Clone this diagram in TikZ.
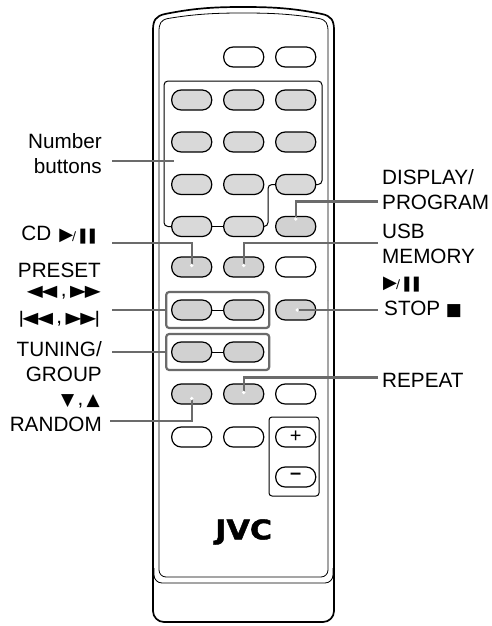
\documentclass[tikz,border=0pt]{standalone}
\usepackage{fontspec}
\setmainfont{Liberation Sans}
\newfontfamily\symfont{DejaVu Sans}
\newfontfamily\logofont[FakeBold=1.6]{DejaVu Sans Bold}
\usepackage{tikz}
\usetikzlibrary{arrows.meta,positioning,fit}

\definecolor{btngray}{gray}{0.82}
\definecolor{numgray}{gray}{0.85}
\definecolor{leadgray}{gray}{0.42}

\newcommand{\playpause}{{\symfont\fontsize{18}{18}\selectfont ▶\kern-1pt{\fontsize{12}{12}\selectfont/}\kern.5pt\fontsize{15}{15}\selectfont ❚\kern-3pt❚}}
\newcommand{\symwide}[1]{\scalebox{1.3}[1]{\symfont\fontsize{16}{16}\selectfont #1}}
\newcommand{\symone}[1]{{\symfont\fontsize{17}{17}\selectfont #1}}

\begin{document}
\begin{tikzpicture}[
    x=1pt, y=-1pt,
    node distance=22pt and 12pt,
    btn/.style={draw, line width=1.2pt, rounded corners=9.5pt, minimum width=40pt, minimum height=20pt, inner sep=0pt, outer sep=0pt},
    graybtn/.style={btn, fill=btngray},
    numbtn/.style={btn, fill=numgray},
    grp/.style={draw=leadgray, line width=2.2pt, rounded corners=3pt, inner xsep=5.5pt, inner ysep=8pt},
    leader/.style={draw=leadgray, line width=2.2pt, -{Circle[white, length=3pt]}},
    leadplain/.style={draw=leadgray, line width=2.2pt},
    lbl/.style={font=\fontsize{20.7}{25}\selectfont, inner sep=0pt, align=right, anchor=east},
    rlbl/.style={font=\fontsize{20.7}{25}\selectfont, inner sep=0pt, align=left, anchor=west},
]
\useasboundingbox (0,0) rectangle (491,626);

% Body
\draw[line width=1.7pt, rounded corners=11pt] (153,300) -- (153,622) -- (334,622) -- (334,300);
\draw[line width=1.7pt] (153,300) -- (153,30) .. controls (153,20) and (156,16) .. (165,14) .. controls (195,8) and (215,7) .. (243,7) .. controls (272,7) and (292,8) .. (322,14) .. controls (331,16) and (334,20) .. (334,30) -- (334,300);
\draw[line width=0.8pt] (159,300) -- (159,32) .. controls (159,23) and (161,20) .. (168,18.5) .. controls (195,14) and (215,13) .. (243,13) .. controls (272,13) and (292,14) .. (319,18.5) .. controls (326,20) and (328,23) .. (328,32) -- (328,300);
\draw[line width=0.8pt, rounded corners=7pt] (159,300) -- (159,577) -- (328,577) -- (328,300);
\draw[line width=0.8pt, rounded corners=8pt] (154,568) -- (154,583) -- (333,583) -- (333,568);

% Top row
\node[btn] (top2) at (243.7,57) {};
\node[btn, right=of top2] (top3) {};

% Number buttons
\node[numbtn] (num11) at (191.7,100) {};
\node[numbtn, right=of num11] (num12) {};
\node[numbtn, right=of num12] (num13) {};
\node[numbtn] (num21) at (191.7,142) {};
\node[numbtn, right=of num21] (num22) {};
\node[numbtn, right=of num22] (num23) {};
\node[numbtn] (num31) at (191.7,184.5) {};
\node[numbtn, right=of num31] (num32) {};
\node[numbtn, right=of num32] (num33) {};
\node[numbtn] (num41) at (191.7,226.5) {};
\node[numbtn, right=of num41] (num42) {};
\node[graybtn, right=of num42] (display) {};

% Number group outline
\draw[line width=1pt, rounded corners=4pt] (num41.west) -- (164,226.5) -- (164,81) -- (322,81) -- (322,184.5) -- (num33.east);
\draw[line width=1pt, rounded corners=4pt] (num33.west) -- (268,184.5) -- (268,226.5) -- (num42.east);
\draw[line width=1pt] (num41) -- (num42);

% Transport rows
\node[graybtn] (cd) at (191.7,267) {};
\node[graybtn, right=of cd] (usb) {};
\node[btn, right=of usb] (row5) {};
\node[graybtn] (prev) at (191.7,310) {};
\node[graybtn, right=of prev] (next) {};
\node[graybtn, right=of next] (stop) {};
\node[graybtn] (down) at (191.7,352) {};
\node[graybtn, right=of down] (up) {};
\node[graybtn] (random) at (191.7,394) {};
\node[graybtn, right=of random] (repeat) {};
\node[btn, right=of repeat] (row8) {};
\node[btn] (row91) at (191.7,437) {};
\node[btn, right=of row91] (row92) {};

% Volume
\node[btn, right=of row92, font=\fontsize{20}{20}\selectfont] (plus) {+};
\node[btn, font=\fontsize{20}{20}\selectfont\bfseries] (minus) at (plus |- 0,477) {\raisebox{1pt}{–}};
\node[draw, line width=1pt, rounded corners=3pt, inner sep=0pt, fit={(269,417)(319,496)}] (volume) {};

% Gray groups
\draw[line width=1pt] (prev) -- (next);
\draw[line width=1pt] (down) -- (up);
\node[grp, fit=(prev)(next)] (presetgrp) {};
\node[grp, fit=(down)(up)] (tuninggrp) {};

% Logo
\node[font=\logofont\fontsize{27}{27}\selectfont, inner sep=0pt] (logo) at (243.7,532) {\scalebox{1.12}[1]{JVC}};

% Labels, left
\node[lbl] (numlabel) at (102,154) {Number\\buttons};
\node[lbl] (cdlabel) at (99,235) {CD\hspace{8pt}\playpause};
\node[lbl] (presetlabel) at (101,270) {PRESET};
\node[lbl] (searchlabel) at (101,293) {\symwide{◀\kern-1pt◀}\,,\,\symwide{▶\kern-1pt▶}};
\node[lbl] (skiplabel) at (101,319) {\symwide{|\kern-2pt◀\kern-1pt◀}\,,\,\symwide{▶\kern-1pt▶\kern-2pt|}};
\node[lbl] (tuninglabel) at (102,362) {TUNING/\\GROUP};
\node[lbl] (arrowlabel) at (100,401) {\symone{▼}\,,\,\symone{▲}};
\node[lbl] (randomlabel) at (102,424) {RANDOM};

% Labels, right
\node[rlbl] (displaylabel) at (382,189.5) {DISPLAY/\\PROGRAM};
\node[rlbl] (usblabel) at (382,244) {USB\\MEMORY};
\node[rlbl] (usbsym) at (383,285) {\playpause};
\node[rlbl] (stoplabel) at (384,309) {STOP \symone{■}};
\node[rlbl] (repeatlabel) at (382,380) {REPEAT};

% Free ends of leaders
\coordinate (numstart) at (112,161);
\coordinate (numend) at (174,161);
\coordinate (cdstart) at (112,243);
\coordinate (presetstart) at (112,310);
\coordinate (tuningstart) at (112,352);
\coordinate (randomstart) at (110,421);
\coordinate (displaystart) at (378,201.5);
\coordinate (usbstart) at (378,243);
\coordinate (stopstart) at (378,310);
\coordinate (repeatstart) at (378,377.5);

% Leaders
\draw[leadplain] (numstart) -- (numend);
\draw[leader] (cdstart) -| (cd.center);
\draw[leadplain] (presetstart) -- (presetgrp.west);
\draw[leadplain] (tuningstart) -- (tuninggrp.west);
\draw[leader, shorten >=3pt] (randomstart) -| (random.center);
\draw[leader, shorten >=6pt] (displaystart) -| (display.center);
\draw[leader] (usbstart) -| (usb.center);
\draw[leader] (stopstart) -- (stop.center);
\draw[leader] (repeatstart) -| (repeat.center);
\end{tikzpicture}
\end{document}
